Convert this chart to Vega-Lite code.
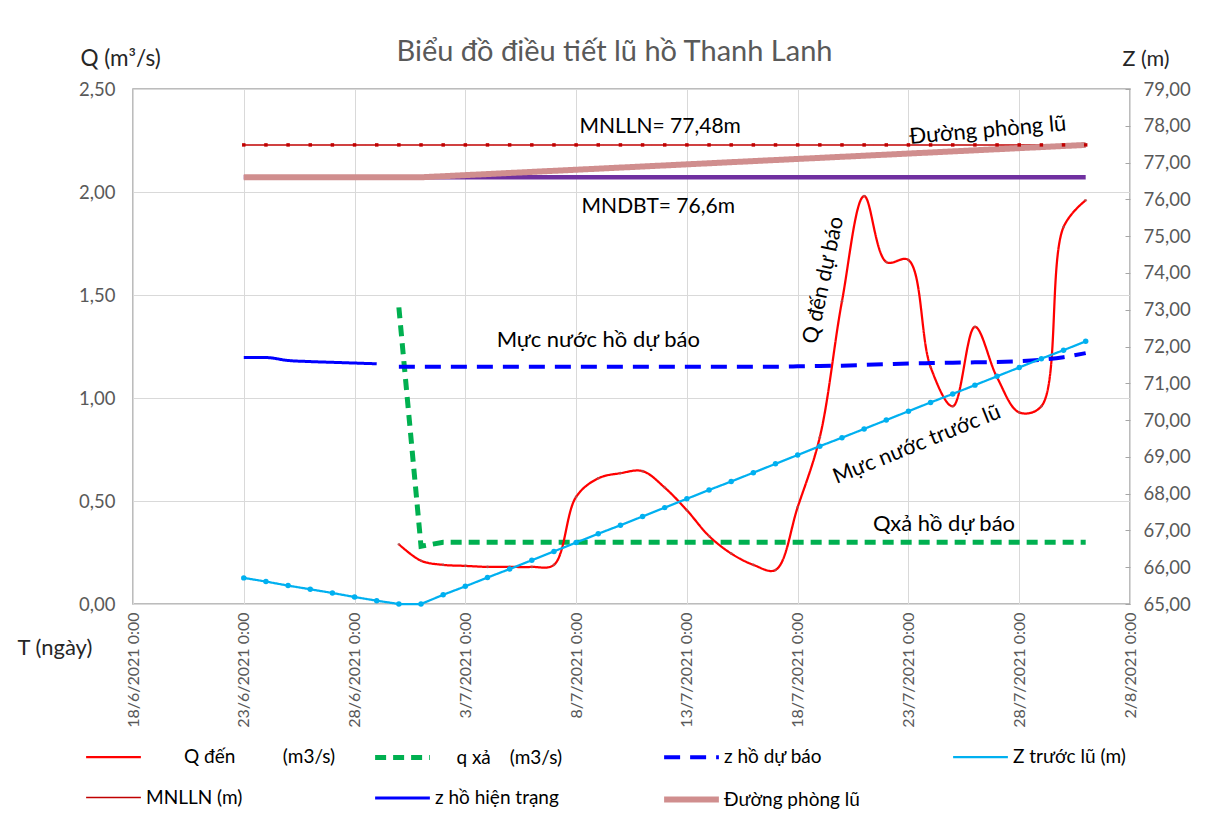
{
  "$schema": "https://vega.github.io/schema/vega-lite/v6.json",
  "width": 997,
  "height": 515,
  "autosize": {"type": "none"},
  "padding": {"left": 133, "top": 89, "right": 85, "bottom": 219},
  "background": "white",
  "config": {
    "font": "Lato",
    "view": {"stroke": "#A6A6A6", "strokeWidth": 1.5},
    "axis": {"labelFont": "Lato", "titleFont": "Lato"},
    "legend": {"labelFont": "Lato"},
    "title": {"font": "Lato"}
  },
  "title": {
    "text": "Biểu đồ điều tiết lũ hồ Thanh Lanh",
    "fontSize": 29,
    "fontWeight": "normal",
    "color": "#595959",
    "anchor": "middle",
    "dx": -17,
    "offset": -20
  },
  "datasets": {
    "rows": [
      {"d": "2021-06-23", "s": "Z trước lũ (m)", "v": 65.71},
      {"d": "2021-06-24", "s": "Z trước lũ (m)", "v": 65.61},
      {"d": "2021-06-25", "s": "Z trước lũ (m)", "v": 65.50},
      {"d": "2021-06-26", "s": "Z trước lũ (m)", "v": 65.40},
      {"d": "2021-06-27", "s": "Z trước lũ (m)", "v": 65.30},
      {"d": "2021-06-28", "s": "Z trước lũ (m)", "v": 65.19},
      {"d": "2021-06-29", "s": "Z trước lũ (m)", "v": 65.09},
      {"d": "2021-06-30", "s": "Z trước lũ (m)", "v": 65.00},
      {"d": "2021-07-01", "s": "Z trước lũ (m)", "v": 65.00},
      {"d": "2021-07-02", "s": "Z trước lũ (m)", "v": 65.25},
      {"d": "2021-07-03", "s": "Z trước lũ (m)", "v": 65.48},
      {"d": "2021-07-04", "s": "Z trước lũ (m)", "v": 65.72},
      {"d": "2021-07-05", "s": "Z trước lũ (m)", "v": 65.95},
      {"d": "2021-07-06", "s": "Z trước lũ (m)", "v": 66.19},
      {"d": "2021-07-07", "s": "Z trước lũ (m)", "v": 66.43},
      {"d": "2021-07-08", "s": "Z trước lũ (m)", "v": 66.67},
      {"d": "2021-07-09", "s": "Z trước lũ (m)", "v": 66.91},
      {"d": "2021-07-10", "s": "Z trước lũ (m)", "v": 67.14},
      {"d": "2021-07-11", "s": "Z trước lũ (m)", "v": 67.38},
      {"d": "2021-07-12", "s": "Z trước lũ (m)", "v": 67.62},
      {"d": "2021-07-13", "s": "Z trước lũ (m)", "v": 67.86},
      {"d": "2021-07-14", "s": "Z trước lũ (m)", "v": 68.10},
      {"d": "2021-07-15", "s": "Z trước lũ (m)", "v": 68.33},
      {"d": "2021-07-16", "s": "Z trước lũ (m)", "v": 68.57},
      {"d": "2021-07-17", "s": "Z trước lũ (m)", "v": 68.81},
      {"d": "2021-07-18", "s": "Z trước lũ (m)", "v": 69.05},
      {"d": "2021-07-19", "s": "Z trước lũ (m)", "v": 69.29},
      {"d": "2021-07-20", "s": "Z trước lũ (m)", "v": 69.52},
      {"d": "2021-07-21", "s": "Z trước lũ (m)", "v": 69.76},
      {"d": "2021-07-22", "s": "Z trước lũ (m)", "v": 70.00},
      {"d": "2021-07-23", "s": "Z trước lũ (m)", "v": 70.24},
      {"d": "2021-07-24", "s": "Z trước lũ (m)", "v": 70.48},
      {"d": "2021-07-25", "s": "Z trước lũ (m)", "v": 70.71},
      {"d": "2021-07-26", "s": "Z trước lũ (m)", "v": 70.95},
      {"d": "2021-07-27", "s": "Z trước lũ (m)", "v": 71.19},
      {"d": "2021-07-28", "s": "Z trước lũ (m)", "v": 71.43},
      {"d": "2021-07-29", "s": "Z trước lũ (m)", "v": 71.67},
      {"d": "2021-07-30", "s": "Z trước lũ (m)", "v": 71.90},
      {"d": "2021-07-31", "s": "Z trước lũ (m)", "v": 72.14},

      {"d": "2021-06-23", "s": "z hồ hiện trạng", "v": 71.70},
      {"d": "2021-06-24", "s": "z hồ hiện trạng", "v": 71.70},
      {"d": "2021-06-25", "s": "z hồ hiện trạng", "v": 71.62},
      {"d": "2021-06-26", "s": "z hồ hiện trạng", "v": 71.59},
      {"d": "2021-06-27", "s": "z hồ hiện trạng", "v": 71.57},
      {"d": "2021-06-28", "s": "z hồ hiện trạng", "v": 71.55},
      {"d": "2021-06-29", "s": "z hồ hiện trạng", "v": 71.53},

      {"d": "2021-06-30", "s": "z hồ dự báo", "v": 71.45},
      {"d": "2021-07-01", "s": "z hồ dự báo", "v": 71.45},
      {"d": "2021-07-02", "s": "z hồ dự báo", "v": 71.45},
      {"d": "2021-07-03", "s": "z hồ dự báo", "v": 71.45},
      {"d": "2021-07-04", "s": "z hồ dự báo", "v": 71.45},
      {"d": "2021-07-05", "s": "z hồ dự báo", "v": 71.45},
      {"d": "2021-07-06", "s": "z hồ dự báo", "v": 71.45},
      {"d": "2021-07-07", "s": "z hồ dự báo", "v": 71.45},
      {"d": "2021-07-08", "s": "z hồ dự báo", "v": 71.45},
      {"d": "2021-07-09", "s": "z hồ dự báo", "v": 71.45},
      {"d": "2021-07-10", "s": "z hồ dự báo", "v": 71.45},
      {"d": "2021-07-11", "s": "z hồ dự báo", "v": 71.45},
      {"d": "2021-07-12", "s": "z hồ dự báo", "v": 71.45},
      {"d": "2021-07-13", "s": "z hồ dự báo", "v": 71.45},
      {"d": "2021-07-14", "s": "z hồ dự báo", "v": 71.45},
      {"d": "2021-07-15", "s": "z hồ dự báo", "v": 71.45},
      {"d": "2021-07-16", "s": "z hồ dự báo", "v": 71.45},
      {"d": "2021-07-17", "s": "z hồ dự báo", "v": 71.45},
      {"d": "2021-07-18", "s": "z hồ dự báo", "v": 71.46},
      {"d": "2021-07-19", "s": "z hồ dự báo", "v": 71.47},
      {"d": "2021-07-20", "s": "z hồ dự báo", "v": 71.48},
      {"d": "2021-07-21", "s": "z hồ dự báo", "v": 71.50},
      {"d": "2021-07-22", "s": "z hồ dự báo", "v": 71.52},
      {"d": "2021-07-23", "s": "z hồ dự báo", "v": 71.54},
      {"d": "2021-07-24", "s": "z hồ dự báo", "v": 71.55},
      {"d": "2021-07-25", "s": "z hồ dự báo", "v": 71.56},
      {"d": "2021-07-26", "s": "z hồ dự báo", "v": 71.57},
      {"d": "2021-07-27", "s": "z hồ dự báo", "v": 71.58},
      {"d": "2021-07-28", "s": "z hồ dự báo", "v": 71.60},
      {"d": "2021-07-29", "s": "z hồ dự báo", "v": 71.64},
      {"d": "2021-07-30", "s": "z hồ dự báo", "v": 71.71},
      {"d": "2021-07-31", "s": "z hồ dự báo", "v": 71.82},

      {"d": "2021-06-23", "s": "MNLLN (m)", "v": 77.48},
      {"d": "2021-06-24", "s": "MNLLN (m)", "v": 77.48},
      {"d": "2021-06-25", "s": "MNLLN (m)", "v": 77.48},
      {"d": "2021-06-26", "s": "MNLLN (m)", "v": 77.48},
      {"d": "2021-06-27", "s": "MNLLN (m)", "v": 77.48},
      {"d": "2021-06-28", "s": "MNLLN (m)", "v": 77.48},
      {"d": "2021-06-29", "s": "MNLLN (m)", "v": 77.48},
      {"d": "2021-06-30", "s": "MNLLN (m)", "v": 77.48},
      {"d": "2021-07-01", "s": "MNLLN (m)", "v": 77.48},
      {"d": "2021-07-02", "s": "MNLLN (m)", "v": 77.48},
      {"d": "2021-07-03", "s": "MNLLN (m)", "v": 77.48},
      {"d": "2021-07-04", "s": "MNLLN (m)", "v": 77.48},
      {"d": "2021-07-05", "s": "MNLLN (m)", "v": 77.48},
      {"d": "2021-07-06", "s": "MNLLN (m)", "v": 77.48},
      {"d": "2021-07-07", "s": "MNLLN (m)", "v": 77.48},
      {"d": "2021-07-08", "s": "MNLLN (m)", "v": 77.48},
      {"d": "2021-07-09", "s": "MNLLN (m)", "v": 77.48},
      {"d": "2021-07-10", "s": "MNLLN (m)", "v": 77.48},
      {"d": "2021-07-11", "s": "MNLLN (m)", "v": 77.48},
      {"d": "2021-07-12", "s": "MNLLN (m)", "v": 77.48},
      {"d": "2021-07-13", "s": "MNLLN (m)", "v": 77.48},
      {"d": "2021-07-14", "s": "MNLLN (m)", "v": 77.48},
      {"d": "2021-07-15", "s": "MNLLN (m)", "v": 77.48},
      {"d": "2021-07-16", "s": "MNLLN (m)", "v": 77.48},
      {"d": "2021-07-17", "s": "MNLLN (m)", "v": 77.48},
      {"d": "2021-07-18", "s": "MNLLN (m)", "v": 77.48},
      {"d": "2021-07-19", "s": "MNLLN (m)", "v": 77.48},
      {"d": "2021-07-20", "s": "MNLLN (m)", "v": 77.48},
      {"d": "2021-07-21", "s": "MNLLN (m)", "v": 77.48},
      {"d": "2021-07-22", "s": "MNLLN (m)", "v": 77.48},
      {"d": "2021-07-23", "s": "MNLLN (m)", "v": 77.48},
      {"d": "2021-07-24", "s": "MNLLN (m)", "v": 77.48},
      {"d": "2021-07-25", "s": "MNLLN (m)", "v": 77.48},
      {"d": "2021-07-26", "s": "MNLLN (m)", "v": 77.48},
      {"d": "2021-07-27", "s": "MNLLN (m)", "v": 77.48},
      {"d": "2021-07-28", "s": "MNLLN (m)", "v": 77.48},
      {"d": "2021-07-29", "s": "MNLLN (m)", "v": 77.48},
      {"d": "2021-07-30", "s": "MNLLN (m)", "v": 77.48},
      {"d": "2021-07-31", "s": "MNLLN (m)", "v": 77.48},

      {"d": "2021-06-23", "s": "Đường phòng lũ", "v": 76.6},
      {"d": "2021-07-01", "s": "Đường phòng lũ", "v": 76.6},
      {"d": "2021-07-31", "s": "Đường phòng lũ", "v": 77.48},

      {"d": "2021-06-23", "s": "MNDBT", "v": 76.6},
      {"d": "2021-07-31", "s": "MNDBT", "v": 76.6},

      {"d": "2021-06-30", "s": "q xả (m3/s)", "v": 1.44},
      {"d": "2021-07-01", "s": "q xả (m3/s)", "v": 0.28},
      {"d": "2021-07-02", "s": "q xả (m3/s)", "v": 0.30},
      {"d": "2021-07-03", "s": "q xả (m3/s)", "v": 0.30},
      {"d": "2021-07-04", "s": "q xả (m3/s)", "v": 0.30},
      {"d": "2021-07-05", "s": "q xả (m3/s)", "v": 0.30},
      {"d": "2021-07-06", "s": "q xả (m3/s)", "v": 0.30},
      {"d": "2021-07-07", "s": "q xả (m3/s)", "v": 0.30},
      {"d": "2021-07-08", "s": "q xả (m3/s)", "v": 0.30},
      {"d": "2021-07-09", "s": "q xả (m3/s)", "v": 0.30},
      {"d": "2021-07-10", "s": "q xả (m3/s)", "v": 0.30},
      {"d": "2021-07-11", "s": "q xả (m3/s)", "v": 0.30},
      {"d": "2021-07-12", "s": "q xả (m3/s)", "v": 0.30},
      {"d": "2021-07-13", "s": "q xả (m3/s)", "v": 0.30},
      {"d": "2021-07-14", "s": "q xả (m3/s)", "v": 0.30},
      {"d": "2021-07-15", "s": "q xả (m3/s)", "v": 0.30},
      {"d": "2021-07-16", "s": "q xả (m3/s)", "v": 0.30},
      {"d": "2021-07-17", "s": "q xả (m3/s)", "v": 0.30},
      {"d": "2021-07-18", "s": "q xả (m3/s)", "v": 0.30},
      {"d": "2021-07-19", "s": "q xả (m3/s)", "v": 0.30},
      {"d": "2021-07-20", "s": "q xả (m3/s)", "v": 0.30},
      {"d": "2021-07-21", "s": "q xả (m3/s)", "v": 0.30},
      {"d": "2021-07-22", "s": "q xả (m3/s)", "v": 0.30},
      {"d": "2021-07-23", "s": "q xả (m3/s)", "v": 0.30},
      {"d": "2021-07-24", "s": "q xả (m3/s)", "v": 0.30},
      {"d": "2021-07-25", "s": "q xả (m3/s)", "v": 0.30},
      {"d": "2021-07-26", "s": "q xả (m3/s)", "v": 0.30},
      {"d": "2021-07-27", "s": "q xả (m3/s)", "v": 0.30},
      {"d": "2021-07-28", "s": "q xả (m3/s)", "v": 0.30},
      {"d": "2021-07-29", "s": "q xả (m3/s)", "v": 0.30},
      {"d": "2021-07-30", "s": "q xả (m3/s)", "v": 0.30},
      {"d": "2021-07-31", "s": "q xả (m3/s)", "v": 0.30},

      {"d": "2021-06-30", "s": "Q đến (m3/s)", "v": 0.29},
      {"d": "2021-07-01", "s": "Q đến (m3/s)", "v": 0.21},
      {"d": "2021-07-02", "s": "Q đến (m3/s)", "v": 0.19},
      {"d": "2021-07-03", "s": "Q đến (m3/s)", "v": 0.185},
      {"d": "2021-07-04", "s": "Q đến (m3/s)", "v": 0.18},
      {"d": "2021-07-05", "s": "Q đến (m3/s)", "v": 0.18},
      {"d": "2021-07-06", "s": "Q đến (m3/s)", "v": 0.18},
      {"d": "2021-07-07", "s": "Q đến (m3/s)", "v": 0.19},
      {"d": "2021-07-08", "s": "Q đến (m3/s)", "v": 0.52},
      {"d": "2021-07-09", "s": "Q đến (m3/s)", "v": 0.61},
      {"d": "2021-07-10", "s": "Q đến (m3/s)", "v": 0.635},
      {"d": "2021-07-11", "s": "Q đến (m3/s)", "v": 0.645},
      {"d": "2021-07-12", "s": "Q đến (m3/s)", "v": 0.565},
      {"d": "2021-07-13", "s": "Q đến (m3/s)", "v": 0.455},
      {"d": "2021-07-14", "s": "Q đến (m3/s)", "v": 0.33},
      {"d": "2021-07-15", "s": "Q đến (m3/s)", "v": 0.245},
      {"d": "2021-07-16", "s": "Q đến (m3/s)", "v": 0.19},
      {"d": "2021-07-17", "s": "Q đến (m3/s)", "v": 0.165},
      {"d": "2021-07-18", "s": "Q đến (m3/s)", "v": 0.47},
      {"d": "2021-07-19", "s": "Q đến (m3/s)", "v": 0.81},
      {"d": "2021-07-20", "s": "Q đến (m3/s)", "v": 1.47},
      {"d": "2021-07-21", "s": "Q đến (m3/s)", "v": 1.98},
      {"d": "2021-07-22", "s": "Q đến (m3/s)", "v": 1.66},
      {"d": "2021-07-23", "s": "Q đến (m3/s)", "v": 1.67},
      {"d": "2021-07-24", "s": "Q đến (m3/s)", "v": 1.15},
      {"d": "2021-07-25", "s": "Q đến (m3/s)", "v": 0.96},
      {"d": "2021-07-26", "s": "Q đến (m3/s)", "v": 1.345},
      {"d": "2021-07-27", "s": "Q đến (m3/s)", "v": 1.10},
      {"d": "2021-07-28", "s": "Q đến (m3/s)", "v": 0.93},
      {"d": "2021-07-29", "s": "Q đến (m3/s)", "v": 0.96},
      {"d": "2021-07-30", "s": "Q đến (m3/s)", "v": 1.83},
      {"d": "2021-07-31", "s": "Q đến (m3/s)", "v": 1.96}
    ]
  },
  "data": {"name": "rows"},
  "encoding": {
    "x": {
      "field": "d",
      "type": "temporal",
      "scale": {
        "type": "utc",
        "domain": [
          {"year": 2021, "month": 6, "date": 18, "utc": true},
          {"year": 2021, "month": 8, "date": 2, "utc": true}
        ]
      },
      "axis": {
        "values": [
          {"year": 2021, "month": 6, "date": 18, "utc": true},
          {"year": 2021, "month": 6, "date": 23, "utc": true},
          {"year": 2021, "month": 6, "date": 28, "utc": true},
          {"year": 2021, "month": 7, "date": 3, "utc": true},
          {"year": 2021, "month": 7, "date": 8, "utc": true},
          {"year": 2021, "month": 7, "date": 13, "utc": true},
          {"year": 2021, "month": 7, "date": 18, "utc": true},
          {"year": 2021, "month": 7, "date": 23, "utc": true},
          {"year": 2021, "month": 7, "date": 28, "utc": true},
          {"year": 2021, "month": 8, "date": 2, "utc": true}
        ],
        "labelExpr": "utcdate(datum.value) + '/' + (utcmonth(datum.value) + 1) + '/' + utcyear(datum.value) + ' 0:00'",
        "labelAngle": -90,
        "labelFontSize": 16,
        "labelColor": "#595959",
        "labelPadding": 8,
        "labelFlush": false,
        "labelOverlap": false,
        "ticks": false,
        "domain": false,
        "grid": true,
        "gridColor": "#D9D9D9",
        "gridWidth": 1,
        "title": "T (ngày)",
        "titleAngle": 0,
        "titleX": -116,
        "titleY": 50,
        "titleAlign": "left",
        "titleBaseline": "alphabetic",
        "titleFontSize": 22,
        "titleFontWeight": "normal",
        "titleColor": "#262626"
      }
    }
  },
  "layer": [
    {
      "encoding": {
        "y": {
          "field": "v",
          "type": "quantitative",
          "scale": {"domain": [0, 2.5], "nice": false, "zero": false},
          "axis": {
            "orient": "left",
            "values": [0, 0.5, 1, 1.5, 2, 2.5],
            "labelExpr": "replace(format(datum.value, '.2f'), '.', ',')",
            "labelFontSize": 18.5,
            "labelColor": "#595959",
            "labelPadding": 18,
            "ticks": false,
            "domain": false,
            "grid": true,
            "gridColor": "#D9D9D9",
            "title": "Q (m³/s)",
            "titleAngle": 0,
            "titleX": -53,
            "titleY": -24,
            "titleAlign": "left",
            "titleBaseline": "alphabetic",
            "titleFontSize": 22.5,
            "titleFontWeight": "normal",
            "titleColor": "#262626"
          }
        }
      },
      "layer": [
        {
          "transform": [{"filter": {"field": "s", "equal": "q xả (m3/s)"}}],
          "mark": {"type": "line", "interpolate": "linear"},
          "encoding": {
            "color": {
              "field": "s", "type": "nominal",
              "scale": {
                "domain": ["Q đến (m3/s)", "q xả (m3/s)", "z hồ dự báo", "Z trước lũ (m)", "MNLLN (m)", "z hồ hiện trạng", "Đường phòng lũ"],
                "range": ["#FF0000", "#00B050", "#0000FF", "#00B0F0", "#C00000", "#0000FF", "#D08E8E"]
              },
              "legend": {
                "title": null, "orient": "none", "direction": "horizontal", "legendX": -50, "legendY": 637, "columns": 4, "gridAlign": "all",
                "columnPadding": 27, "rowPadding": -10, "symbolType": "stroke", "symbolSize": 3000, "labelOffset": 2,
                "labelFontSize": 19, "labelColor": "#000000", "labelLimit": 400,
                "labelExpr": "datum.label == 'Q đến (m3/s)' ? '\u200b\u2002\u2002\u2002\u2002Q đến\u2002\u2002\u2002\u2002\u2002(m3/s)' : datum.label == 'q xả (m3/s)' ? '\u200b\u2002\u2002\u2009q xả\u2002\u2002(m3/s)' : datum.label"
              }
            },
            "strokeDash": {
              "field": "s", "type": "nominal",
              "scale": {
                "domain": ["Q đến (m3/s)", "q xả (m3/s)", "z hồ dự báo", "Z trước lũ (m)", "MNLLN (m)", "z hồ hiện trạng", "Đường phòng lũ"],
                "range": [[1, 0], [11, 7], [16, 10], [1, 0], [1, 0], [1, 0], [1, 0]]
              },
              "legend": {
                "title": null, "orient": "none", "direction": "horizontal", "legendX": -50, "legendY": 637, "columns": 4, "gridAlign": "all",
                "columnPadding": 27, "rowPadding": -10, "symbolType": "stroke", "symbolSize": 3000, "labelOffset": 2,
                "labelFontSize": 19, "labelColor": "#000000", "labelLimit": 400,
                "labelExpr": "datum.label == 'Q đến (m3/s)' ? '\u200b\u2002\u2002\u2002\u2002Q đến\u2002\u2002\u2002\u2002\u2002(m3/s)' : datum.label == 'q xả (m3/s)' ? '\u200b\u2002\u2002\u2009q xả\u2002\u2002(m3/s)' : datum.label"
              }
            },
            "strokeWidth": {
              "field": "s", "type": "nominal",
              "scale": {
                "type": "ordinal",
                "domain": ["Q đến (m3/s)", "q xả (m3/s)", "z hồ dự báo", "Z trước lũ (m)", "MNLLN (m)", "z hồ hiện trạng", "Đường phòng lũ"],
                "range": [2.25, 5, 4, 2.25, 1.5, 3, 6]
              },
              "legend": {
                "title": null, "orient": "none", "direction": "horizontal", "legendX": -50, "legendY": 637, "columns": 4, "gridAlign": "all",
                "columnPadding": 27, "rowPadding": -10, "symbolType": "stroke", "symbolSize": 3000, "labelOffset": 2,
                "labelFontSize": 19, "labelColor": "#000000", "labelLimit": 400,
                "labelExpr": "datum.label == 'Q đến (m3/s)' ? '\u200b\u2002\u2002\u2002\u2002Q đến\u2002\u2002\u2002\u2002\u2002(m3/s)' : datum.label == 'q xả (m3/s)' ? '\u200b\u2002\u2002\u2009q xả\u2002\u2002(m3/s)' : datum.label"
              }
            }
          }
        },
        {
          "transform": [{"filter": {"field": "s", "equal": "Q đến (m3/s)"}}],
          "mark": {"type": "line", "interpolate": "catmull-rom"},
          "encoding": {
            "color": {
              "field": "s", "type": "nominal",
              "scale": {
                "domain": ["Q đến (m3/s)", "q xả (m3/s)", "z hồ dự báo", "Z trước lũ (m)", "MNLLN (m)", "z hồ hiện trạng", "Đường phòng lũ"],
                "range": ["#FF0000", "#00B050", "#0000FF", "#00B0F0", "#C00000", "#0000FF", "#D08E8E"]
              }
            },
            "strokeDash": {
              "field": "s", "type": "nominal",
              "scale": {
                "domain": ["Q đến (m3/s)", "q xả (m3/s)", "z hồ dự báo", "Z trước lũ (m)", "MNLLN (m)", "z hồ hiện trạng", "Đường phòng lũ"],
                "range": [[1, 0], [11, 7], [16, 10], [1, 0], [1, 0], [1, 0], [1, 0]]
              }
            },
            "strokeWidth": {
              "field": "s", "type": "nominal",
              "scale": {
                "type": "ordinal",
                "domain": ["Q đến (m3/s)", "q xả (m3/s)", "z hồ dự báo", "Z trước lũ (m)", "MNLLN (m)", "z hồ hiện trạng", "Đường phòng lũ"],
                "range": [2.25, 5, 4, 2.25, 1.5, 3, 6]
              }
            }
          }
        },
        {
          "transform": [{"filter": {"field": "s", "equal": "Q đến (m3/s)"}}],
          "mark": {"type": "point", "filled": true, "size": 7, "color": "#B05050", "opacity": 0.8}
        }
      ]
    },
    {
      "encoding": {
        "y": {
          "field": "v",
          "type": "quantitative",
          "scale": {"domain": [65, 79], "nice": false, "zero": false},
          "axis": {
            "orient": "right",
            "values": [65, 66, 67, 68, 69, 70, 71, 72, 73, 74, 75, 76, 77, 78, 79],
            "labelExpr": "replace(format(datum.value, '.2f'), '.', ',')",
            "labelFontSize": 18.5,
            "labelColor": "#595959",
            "labelPadding": 18,
            "ticks": true,
            "tickSize": -5,
            "tickColor": "#A6A6A6",
            "domain": false,
            "grid": false,
            "title": "Z (m)",
            "titleAngle": 0,
            "titleX": -8,
            "titleY": -24,
            "titleAlign": "left",
            "titleBaseline": "alphabetic",
            "titleFontSize": 21.5,
            "titleFontWeight": "normal",
            "titleColor": "#262626"
          }
        }
      },
      "layer": [
        {
          "transform": [{"filter": {"field": "s", "equal": "MNDBT"}}],
          "mark": {"type": "line", "color": "#7030A0", "strokeWidth": 4.5}
        },
        {
          "transform": [{"filter": {"field": "s", "oneOf": ["z hồ dự báo", "z hồ hiện trạng"]}}],
          "mark": {"type": "line", "interpolate": "monotone"},
          "encoding": {
            "color": {
              "field": "s", "type": "nominal",
              "scale": {
                "domain": ["Q đến (m3/s)", "q xả (m3/s)", "z hồ dự báo", "Z trước lũ (m)", "MNLLN (m)", "z hồ hiện trạng", "Đường phòng lũ"],
                "range": ["#FF0000", "#00B050", "#0000FF", "#00B0F0", "#C00000", "#0000FF", "#D08E8E"]
              }
            },
            "strokeDash": {
              "field": "s", "type": "nominal",
              "scale": {
                "domain": ["Q đến (m3/s)", "q xả (m3/s)", "z hồ dự báo", "Z trước lũ (m)", "MNLLN (m)", "z hồ hiện trạng", "Đường phòng lũ"],
                "range": [[1, 0], [11, 7], [16, 10], [1, 0], [1, 0], [1, 0], [1, 0]]
              }
            },
            "strokeWidth": {
              "field": "s", "type": "nominal",
              "scale": {
                "type": "ordinal",
                "domain": ["Q đến (m3/s)", "q xả (m3/s)", "z hồ dự báo", "Z trước lũ (m)", "MNLLN (m)", "z hồ hiện trạng", "Đường phòng lũ"],
                "range": [2.25, 5, 4, 2.25, 1.5, 3, 6]
              }
            }
          }
        },
        {
          "transform": [{"filter": {"field": "s", "oneOf": ["Z trước lũ (m)", "MNLLN (m)", "Đường phòng lũ"]}}],
          "mark": {"type": "line", "interpolate": "linear"},
          "encoding": {
            "color": {
              "field": "s", "type": "nominal",
              "scale": {
                "domain": ["Q đến (m3/s)", "q xả (m3/s)", "z hồ dự báo", "Z trước lũ (m)", "MNLLN (m)", "z hồ hiện trạng", "Đường phòng lũ"],
                "range": ["#FF0000", "#00B050", "#0000FF", "#00B0F0", "#C00000", "#0000FF", "#D08E8E"]
              }
            },
            "strokeDash": {
              "field": "s", "type": "nominal",
              "scale": {
                "domain": ["Q đến (m3/s)", "q xả (m3/s)", "z hồ dự báo", "Z trước lũ (m)", "MNLLN (m)", "z hồ hiện trạng", "Đường phòng lũ"],
                "range": [[1, 0], [11, 7], [16, 10], [1, 0], [1, 0], [1, 0], [1, 0]]
              }
            },
            "strokeWidth": {
              "field": "s", "type": "nominal",
              "scale": {
                "type": "ordinal",
                "domain": ["Q đến (m3/s)", "q xả (m3/s)", "z hồ dự báo", "Z trước lũ (m)", "MNLLN (m)", "z hồ hiện trạng", "Đường phòng lũ"],
                "range": [2.25, 5, 4, 2.25, 1.5, 3, 6]
              }
            }
          }
        },
        {
          "transform": [{"filter": {"field": "s", "equal": "Z trước lũ (m)"}}],
          "mark": {"type": "point", "filled": true, "size": 30, "color": "#00B0F0", "opacity": 1}
        },
        {
          "transform": [{"filter": {"field": "s", "equal": "MNLLN (m)"}}],
          "mark": {"type": "square", "filled": true, "size": 12, "color": "#C00000", "opacity": 1}
        },
        {
          "data": {"values": [{"d": "2021-07-11T19:00:00Z", "v": 77.96, "t": "MNLLN= 77,48m"}, {"d": "2021-07-11T17:00:00Z", "v": 75.79, "t": "MNDBT= 76,6m"}]},
          "mark": {"type": "text", "fontSize": 21, "color": "#000000", "align": "center", "baseline": "middle"},
          "encoding": {"text": {"field": "t"}}
        },
        {
          "data": {"values": [{"d": "2021-07-09T00:00:00Z", "v": 72.17, "t": "Mực nước hồ dự báo"}, {"d": "2021-07-24T14:30:00Z", "v": 67.17, "t": "Qxả hồ dự báo"}]},
          "mark": {"type": "text", "fontSize": 22, "color": "#000000", "align": "center", "baseline": "middle"},
          "encoding": {"text": {"field": "t"}}
        },
        {
          "data": {"values": [{"d": "2021-07-26T14:00:00Z", "v": 77.88, "t": "Đường phòng lũ"}]},
          "mark": {"type": "text", "fontSize": 22, "color": "#000000", "align": "center", "baseline": "middle", "angle": -5},
          "encoding": {"text": {"field": "t"}}
        },
        {
          "data": {"values": [{"d": "2021-07-19T04:30:00Z", "v": 73.80, "t": "Q đến dự báo"}]},
          "mark": {"type": "text", "fontSize": 21.5, "color": "#000000", "align": "center", "baseline": "middle", "angle": -78},
          "encoding": {"text": {"field": "t"}}
        },
        {
          "data": {"values": [{"d": "2021-07-23T09:20:00Z", "v": 69.32, "t": "Mực nước trước lũ"}]},
          "mark": {"type": "text", "fontSize": 21.5, "color": "#000000", "align": "center", "baseline": "middle", "angle": -22},
          "encoding": {"text": {"field": "t"}}
        }
      ]
    }
  ],
  "resolve": {"scale": {"y": "independent"}}
}
